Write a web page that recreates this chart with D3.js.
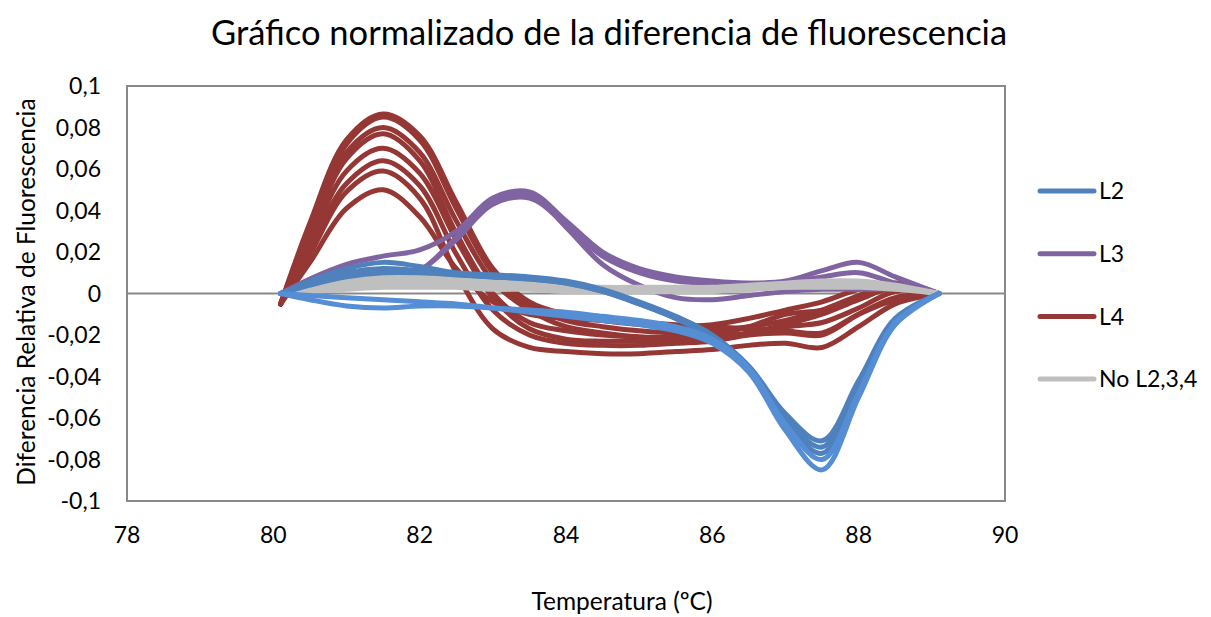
<!DOCTYPE html>
<html>
<head>
<meta charset="utf-8">
<script src="https://cdn.jsdelivr.net/npm/d3@7"></script>
<style>
  body { margin: 0; background: #fff; }
  text { font-family: Lato, "Open Sans", sans-serif; fill: #000; }
</style>
</head>
<body>
<div id="chart"></div>
<script>
// temperatures (ºC) shared by every curve
const temps = [80.1, 80.5, 81, 81.5, 82, 82.5, 83, 83.5, 84, 84.5, 85, 85.5, 86, 86.5, 87, 87.5, 88, 88.5, 89.1];

// L2 curves (darker ones first, then the brighter ones)
const l2Dark = [
  [0, 0.006, 0.012, 0.015, 0.013, 0.010, 0.009, 0.008, 0.006, 0.002, -0.004, -0.011, -0.020, -0.035, -0.058, -0.071, -0.042, -0.012, 0],
  [0, 0.005, 0.010, 0.012, 0.011, 0.009, 0.008, 0.007, 0.005, 0.001, -0.005, -0.012, -0.021, -0.036, -0.060, -0.074, -0.044, -0.013, 0],
  [0, 0.004, 0.008, 0.010, 0.010, 0.009, 0.008, 0.007, 0.005, 0.001, -0.005, -0.012, -0.022, -0.037, -0.062, -0.077, -0.046, -0.014, 0]
];
const l2Light = [
  [0, -0.003, -0.006, -0.007, -0.006, -0.006, -0.007, -0.008, -0.009, -0.011, -0.013, -0.016, -0.022, -0.036, -0.063, -0.080, -0.048, -0.014, 0],
  [0, -0.001, -0.002, -0.003, -0.004, -0.005, -0.007, -0.009, -0.011, -0.013, -0.015, -0.018, -0.024, -0.038, -0.066, -0.085, -0.050, -0.015, 0]
];

// L3 curves
const l3 = [
  [0, 0.007, 0.014, 0.018, 0.021, 0.030, 0.046, 0.049, 0.035, 0.020, 0.012, 0.008, 0.006, 0.005, 0.006, 0.011, 0.015, 0.008, 0],
  [0, 0.001, 0.003, 0.006, 0.011, 0.026, 0.043, 0.046, 0.033, 0.018, 0.010, 0.006, 0.005, 0.005, 0.005, 0.008, 0.010, 0.005, 0],
  [0, 0.001, 0.003, 0.006, 0.011, 0.027, 0.045, 0.048, 0.032, 0.014, 0.004, -0.002, -0.003, -0.001, 0.001, 0.002, 0.002, 0.002, 0]
];

// L4 curves
const l4 = [
  [-0.005, 0.034, 0.074, 0.0865, 0.076, 0.044, 0.012, -0.004, -0.010, -0.013, -0.015, -0.016, -0.015, -0.012, -0.008, -0.004, 0.002, 0.005, 0],
  [-0.005, 0.032, 0.072, 0.085, 0.074, 0.041, 0.010, -0.006, -0.013, -0.016, -0.018, -0.019, -0.018, -0.016, -0.013, -0.008, -0.001, 0.004, 0],
  [-0.005, 0.030, 0.068, 0.080, 0.068, 0.035, 0.006, -0.008, -0.016, -0.019, -0.021, -0.022, -0.021, -0.019, -0.015, -0.010, -0.003, 0.003, 0],
  [-0.005, 0.028, 0.065, 0.077, 0.064, 0.029, 0.000, -0.014, -0.018, -0.020, -0.021, -0.021, -0.020, -0.016, -0.010, -0.008, -0.002, 0.005, 0],
  [-0.005, 0.025, 0.059, 0.070, 0.058, 0.026, -0.002, -0.017, -0.022, -0.023, -0.023, -0.023, -0.022, -0.019, -0.016, -0.014, -0.007, 0.001, 0],
  [-0.005, 0.022, 0.053, 0.064, 0.052, 0.019, -0.008, -0.020, -0.024, -0.025, -0.025, -0.024, -0.023, -0.020, -0.019, -0.020, -0.010, -0.002, 0],
  [-0.005, 0.019, 0.049, 0.059, 0.046, 0.010, -0.017, -0.026, -0.028, -0.029, -0.029, -0.028, -0.027, -0.025, -0.024, -0.026, -0.016, -0.005, 0],
  [-0.005, 0.015, 0.041, 0.050, 0.037, 0.012, -0.004, -0.010, -0.012, -0.013, -0.014, -0.015, -0.016, -0.017, -0.018, -0.019, -0.010, -0.003, 0]
];

// No L2,3,4 curves
const noL = [
  [0, 0.003, 0.006, 0.008, 0.008, 0.007, 0.006, 0.005, 0.004, 0.003, 0.003, 0.003, 0.003, 0.004, 0.005, 0.006, 0.006, 0.004, 0],
  [0, 0.002, 0.004, 0.005, 0.005, 0.005, 0.004, 0.004, 0.003, 0.002, 0.002, 0.002, 0.002, 0.003, 0.004, 0.005, 0.005, 0.003, 0],
  [0, 0.001, 0.002, 0.003, 0.003, 0.003, 0.002, 0.002, 0.001, 0.001, 0.001, 0.001, 0.001, 0.002, 0.003, 0.004, 0.004, 0.003, 0],
  [0, 0.002, 0.004, 0.006, 0.006, 0.006, 0.005, 0.004, 0.003, 0.002, 0.001, 0.001, 0.002, 0.002, 0.003, 0.003, 0.003, 0.002, 0]
];

const xTicks = [78, 80, 82, 84, 86, 88, 90];
const yTicks = [-0.1, -0.08, -0.06, -0.04, -0.02, 0, 0.02, 0.04, 0.06, 0.08, 0.1];
const legendNames = ['L2', 'L3', 'L4', 'No L2,3,4'];
const legendColors = ['#4F81BD', '#8064A2', '#953735', '#BFBFBF'];

const width = 1211, height = 617;
const plot = { left: 127, right: 1005, top: 86, bottom: 501 };

const svg = d3.select('#chart').append('svg')
  .attr('width', width)
  .attr('height', height);

const x = d3.scaleLinear().domain([78, 90]).range([plot.left, plot.right]);
const y = d3.scaleLinear().domain([-0.1, 0.1]).range([plot.bottom, plot.top]);

const fmt = v => (Math.round(v * 100) / 100).toString().replace('.', ',');

// plot frame
svg.append('rect')
  .attr('x', plot.left).attr('y', plot.top)
  .attr('width', plot.right - plot.left).attr('height', plot.bottom - plot.top)
  .attr('fill', 'none').attr('stroke', '#898989').attr('stroke-width', 2);

// zero line (horizontal axis)
svg.append('line')
  .attr('x1', plot.left).attr('x2', plot.right)
  .attr('y1', y(0)).attr('y2', y(0))
  .attr('stroke', '#898989').attr('stroke-width', 2);

// y tick labels
svg.append('g').selectAll('text')
  .data(yTicks).enter().append('text')
  .attr('x', 101).attr('y', d => y(d))
  .attr('dy', '0.36em')
  .attr('text-anchor', 'end')
  .style('font-size', '23px')
  .text(fmt);

// x tick labels
svg.append('g').selectAll('text')
  .data(xTicks).enter().append('text')
  .attr('x', d => x(d)).attr('y', 543)
  .attr('text-anchor', 'middle')
  .style('font-size', '23px')
  .text(d => d);

// curves
const line = d3.line()
  .x((d, i) => x(temps[i]))
  .y(d => y(d))
  .curve(d3.curveCatmullRom.alpha(0.5));

const groups = [
  { data: l4, color: '#953735' },
  { data: l3, color: '#8064A2' },
  { data: noL, color: '#BFBFBF' },
  { data: l2Dark, color: '#4F81BD' },
  { data: l2Light, color: '#558ED5' }
];

groups.forEach(g => {
  svg.append('g').selectAll('path')
    .data(g.data).enter().append('path')
    .attr('d', line)
    .attr('fill', 'none')
    .attr('stroke', g.color)
    .attr('stroke-width', 5)
    .attr('stroke-linecap', 'round')
    .attr('stroke-linejoin', 'round');
});

// title
svg.append('text')
  .attr('x', 609).attr('y', 45)
  .attr('text-anchor', 'middle')
  .style('font-size', '34.5px')
  .text('Gráfico normalizado de la diferencia de fluorescencia');

// axis titles
svg.append('text')
  .attr('transform', 'translate(35,292) rotate(-90)')
  .attr('text-anchor', 'middle')
  .style('font-size', '24.5px')
  .text('Diferencia Relativa de Fluorescencia');

svg.append('text')
  .attr('x', 622).attr('y', 610)
  .attr('text-anchor', 'middle')
  .style('font-size', '24.5px')
  .text('Temperatura (ºC)');

// legend
const legend = svg.append('g').selectAll('g')
  .data(legendNames).enter().append('g')
  .attr('transform', (d, i) => `translate(1040,${191 + i * 62.7})`);

legend.append('line')
  .attr('x1', 0).attr('x2', 54)
  .attr('stroke', (d, i) => legendColors[i])
  .attr('stroke-width', 5)
  .attr('stroke-linecap', 'round');

legend.append('text')
  .attr('x', 59).attr('dy', '0.36em')
  .style('font-size', '23px')
  .text(d => d);
</script>
</body>
</html>
